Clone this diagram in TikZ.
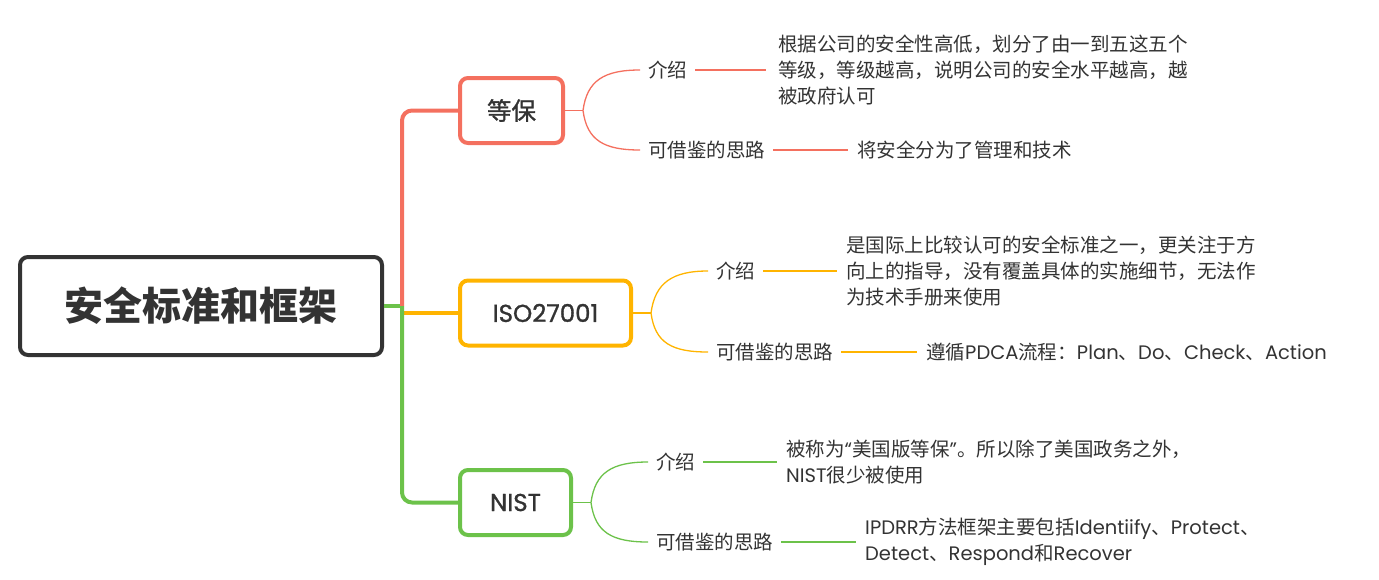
\documentclass[tikz,border=0pt]{standalone}
\usepackage{fontspec}
\usetikzlibrary{calc}
\setmainfont{Noto Sans CJK SC}
\newfontfamily\cjk{Noto Sans CJK SC}
\newfontfamily\cjkm[FakeBold=1.2]{Noto Sans CJK SC}
\newfontfamily\lat{Poppins}
\newfontfamily\latm[FakeBold=1.2]{Poppins}
\newcommand\la[1]{{\lat #1}}
\definecolor{cred}{HTML}{F4705F}
\definecolor{cyel}{HTML}{FFB400}
\definecolor{cgrn}{HTML}{6CC24A}
\definecolor{cdark}{HTML}{333333}
\tikzset{
  rootbox/.style={draw=cdark, line width=4pt, rounded corners=8pt, minimum width=362pt, minimum height=98pt, inner sep=0pt, text=cdark, font=\fontsize{39}{44}\selectfont\bfseries},
  topicbox/.style={line width=4pt, rounded corners=8pt, minimum height=65pt, inner sep=0pt, text=cdark, font=\fontsize{24.5}{28}\selectfont\cjkm},
  sublabel/.style={anchor=west, inner sep=0pt, text=cdark, font=\fontsize{19.5}{26}\selectfont},
  leaftext/.style={anchor=west, inner sep=0pt, text=cdark, align=left, font=\fontsize{19.5}{26}\selectfont},
  trunk/.style={line width=4pt, rounded corners=10pt},
  twig/.style={line width=1.3pt},
}
\begin{document}
\begin{tikzpicture}[x=1pt,y=-1pt]
\useasboundingbox (0,0) rectangle (1379,579);
% root
\node[rootbox] (root) at (201,306) {安全标准和框架};
% topics
\node[topicbox, draw=cred, minimum width=103pt] (t1) at (511.5,110.5) {等保};
\node[topicbox, draw=cyel, minimum width=171pt] (t2) at (545.5,313) {{\latm ISO27001}};
\node[topicbox, draw=cgrn, minimum width=111pt] (t3) at (515.5,502.5) {{\latm NIST}};
% trunk
\coordinate (j) at (402,306);
\draw[trunk, cgrn] (root.east |- j) -- (j);
\draw[trunk, cred] (j) |- (t1.west);
\draw[trunk, cyel] (402,313) -- (t2.west);
\draw[trunk, cgrn] (j) |- (t3.west);
% labels
\node[sublabel] (a1) at (648,70) {介绍};
\node[sublabel] (b1) at (648,150) {可借鉴的思路};
\node[sublabel] (a2) at (716,271) {介绍};
\node[sublabel] (b2) at (716,352) {可借鉴的思路};
\node[sublabel] (a3) at (656,462) {介绍};
\node[sublabel] (b3) at (656,542) {可借鉴的思路};
% leaf texts
\node[leaftext] (x1) at (778,70) {根据公司的安全性高低，划分了由一到五这五个\\等级，等级越高，说明公司的安全水平越高，越\\被政府认可};
\node[leaftext] (y1) at (857,150) {将安全分为了管理和技术};
\node[leaftext] (x2) at (846,271) {是国际上比较认可的安全标准之一，更关注于方\\向上的指导，没有覆盖具体的实施细节，无法作\\为技术手册来使用};
\node[leaftext] (y2) at (926,352) {遵循\la{PDCA}流程：\la{Plan}、\la{Do}、\la{Check}、\la{Action}};
\node[leaftext] (x3) at (786,462) {被称为\la{“}美国版等保\la{”}。所以除了美国政务之外，\\\la{NIST}很少被使用};
\node[leaftext] (y3) at (865,542) {\la{IPDRR}方法框架主要包括\la{Identiify}、\la{Protect}、\\\la{Detect}、\la{Respond}和\la{Recover}};
% branch curves
\foreach \t/\a/\b/\c in {t1/a1/b1/cred, t2/a2/b2/cyel, t3/a3/b3/cgrn}{
  \draw[twig, \c] (\t.east) -- ++(18,0) coordinate (k\t);
  \draw[twig, \c] (k\t) .. controls ($(k\t)+(4,-30)$) and ($([xshift=-8pt]\a.west)+(-36,0)$) .. ([xshift=-8pt]\a.west);
  \draw[twig, \c] (k\t) .. controls ($(k\t)+(4,30)$) and ($([xshift=-8pt]\b.west)+(-36,0)$) .. ([xshift=-8pt]\b.west);
}
% connectors to leaves
\draw[twig, cred] ([xshift=8pt]a1.east) -- ([xshift=-12pt]x1.west);
\draw[twig, cred] ([xshift=8pt]b1.east) -- ([xshift=-9pt]y1.west);
\draw[twig, cyel] ([xshift=8pt]a2.east) -- ([xshift=-9pt]x2.west);
\draw[twig, cyel] ([xshift=8pt]b2.east) -- ([xshift=-9pt]y2.west);
\draw[twig, cgrn] ([xshift=8pt]a3.east) -- ([xshift=-9pt]x3.west);
\draw[twig, cgrn] ([xshift=8pt]b3.east) -- ([xshift=-9pt]y3.west);
\end{tikzpicture}
\end{document}
